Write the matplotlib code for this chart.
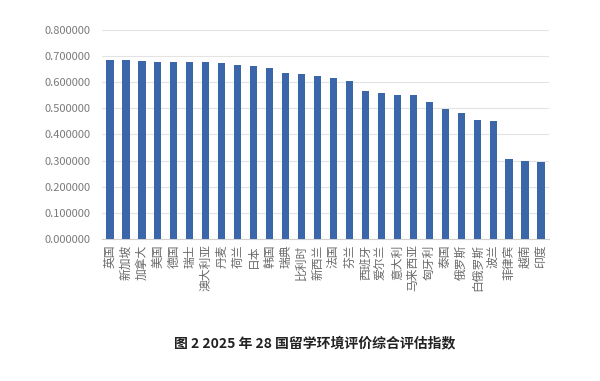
import matplotlib
matplotlib.use("Agg")
import matplotlib.pyplot as plt
import numpy as np

plt.rcParams['font.family'] = ['Noto Sans CJK SC', 'DejaVu Sans']

# 国家与综合评估指数
countries = ["英国", "新加坡", "加拿大", "美国", "德国", "瑞士", "澳大利亚", "丹麦",
             "荷兰", "日本", "韩国", "瑞典", "比利时", "新西兰", "法国", "芬兰",
             "西班牙", "爱尔兰", "意大利", "马来西亚", "匈牙利", "泰国", "俄罗斯",
             "白俄罗斯", "波兰", "菲律宾", "越南", "印度"]
scores = [0.686, 0.685, 0.683, 0.679, 0.677, 0.677, 0.677, 0.673,
          0.667, 0.663, 0.655, 0.635, 0.632, 0.626, 0.616, 0.605,
          0.567, 0.559, 0.553, 0.552, 0.525, 0.499, 0.482,
          0.456, 0.453, 0.305, 0.300, 0.296]
yticks = [0.0, 0.1, 0.2, 0.3, 0.4, 0.5, 0.6, 0.7, 0.8]

fig = plt.figure(figsize=(6.0, 3.81), dpi=100)
ax = fig.add_axes([0.17, 0.373, 0.745, 0.548])

x = np.arange(len(countries))
ax.bar(x, scores, width=0.45, color="#3b66aa", zorder=3)

ax.set_xlim(-0.5, len(countries) - 0.5)
ax.set_ylim(0, 0.8)
ax.set_yticks(yticks)
ax.set_yticklabels([f"{v:.6f}" for v in yticks], fontsize=8, color="#7a7a7a")
ax.set_xticks(x)
ax.set_xticklabels(countries, rotation=90, fontsize=8.5, color="#6a6a6a",
                   va="top", ha="center")
ax.tick_params(axis="both", length=0, pad=4)
ax.tick_params(axis="y", pad=8)

ax.grid(axis="y", color="#e3e3e3", linewidth=0.8, zorder=0)
for side in ["top", "right", "left"]:
    ax.spines[side].set_visible(False)
ax.spines["bottom"].set_color("#d0d0d0")
ax.spines["bottom"].set_linewidth(0.8)

fig.text(0.525, 0.1, "图 2 2025 年 28 国留学环境评价综合评估指数",
         ha="center", va="center", fontsize=10, fontweight="bold", color="#222222")

fig.savefig("out.png", dpi=100)
